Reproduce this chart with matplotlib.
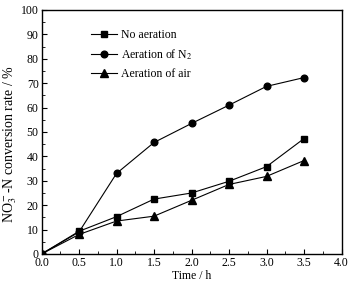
import matplotlib.pyplot as plt
import numpy as np
from matplotlib.ticker import MultipleLocator

plt.rcParams['font.family'] = ['Liberation Serif', 'DejaVu Serif']
plt.rcParams['mathtext.fontset'] = 'stix'
plt.rcParams['font.size'] = 8.5

# data
time = [0, 0.5, 1.0, 1.5, 2.0, 2.5, 3.0, 3.5]
no_aeration = [0, 9.3, 15.3, 22.5, 25.0, 29.8, 35.8, 47.3]
aeration_n2 = [0, 9.0, 33.0, 45.7, 53.5, 61.0, 68.7, 72.3]
aeration_air = [0, 8.0, 13.5, 15.5, 22.0, 28.5, 31.8, 38.3]

fig = plt.figure(figsize=(3.55, 2.86), dpi=100)
ax = fig.add_axes([41.5/355, 1 - 254/286, 300/355, 244/286])

ax.plot(time, no_aeration, 'k-s', lw=0.8, ms=4.8, label='No aeration')
ax.plot(time, aeration_n2, 'k-o', lw=0.8, ms=4.8, label='Aeration of N$_2$')
ax.plot(time, aeration_air, 'k-^', lw=0.8, ms=5.2, label='Aeration of air')

ax.set_xlim(0, 4.0)
ax.set_ylim(0, 100)
ax.xaxis.set_major_locator(MultipleLocator(0.5))
ax.xaxis.set_minor_locator(MultipleLocator(0.25))
ax.yaxis.set_major_locator(MultipleLocator(10))
ax.yaxis.set_minor_locator(MultipleLocator(5))
ax.xaxis.set_major_formatter(plt.FormatStrFormatter('%.1f'))
ax.tick_params(which='both', direction='in')
ax.tick_params(which='major', length=3.5, width=0.8, pad=2)
ax.tick_params(which='minor', length=2, width=0.6)
for s in ax.spines.values():
    s.set_linewidth(1.0)

ax.set_xlabel('Time / h', labelpad=1)
ax.set_ylabel('NO$_3^-$-N conversion rate / %', fontsize=10)
ax.yaxis.set_label_coords(-0.075, 0.45)

ax.legend(loc='upper left', bbox_to_anchor=(0.15, 0.94), frameon=False,
          handlelength=2.2, handletextpad=0.3, labelspacing=0.5,
          borderaxespad=0)

fig.savefig('out.png', dpi=100)
